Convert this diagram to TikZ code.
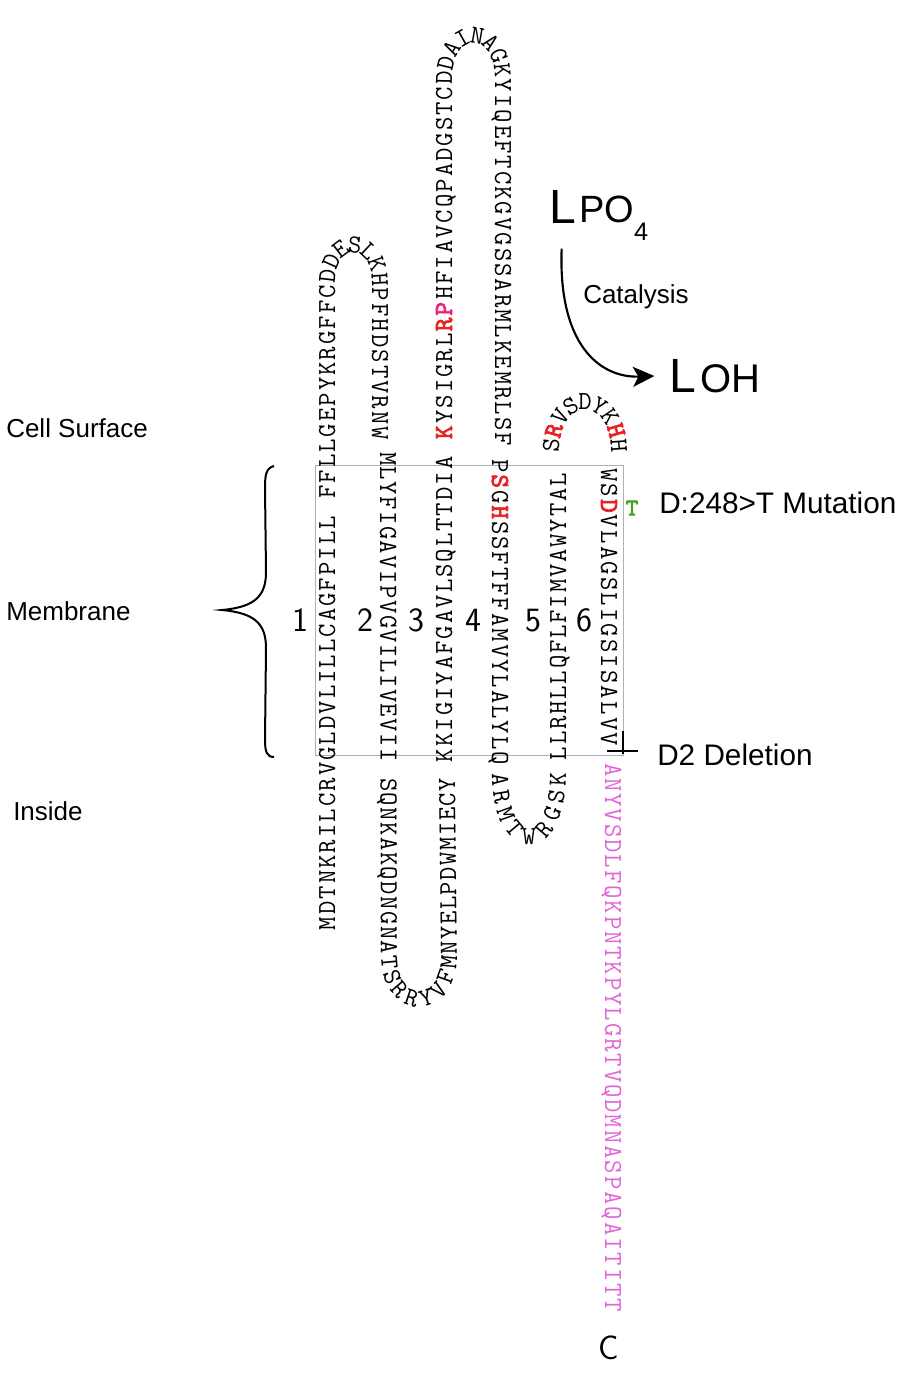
\documentclass[tikz,border=0pt]{standalone}
\usepackage{fontspec}
\usepackage{tikz}
\usetikzlibrary{decorations.text,arrows.meta}
\newfontfamily\labelfont{Liberation Sans}
\newfontfamily\aminobf[FakeBold=3]{lmmono10-regular.otf}
\newcommand{\aminofont}{\ttfamily\fontsize{19.5}{19.5}\selectfont}
\newcommand{\aminoblk}{\aminofont\mdseries\color{black}}
\newcommand{\aminored}{\aminobf\fontsize{19.5}{19.5}\selectfont\color[RGB]{232,34,36}}
\newcommand{\aminopink}{\aminobf\fontsize{19.5}{19.5}\selectfont\color[RGB]{236,30,120}}
\newcommand{\aminotail}{\aminofont\mdseries\color[RGB]{226,100,214}}
\tikzset{
  seq/.style={decorate, decoration={text along path, text align={fit to path}, raise=-6pt, text={#1}}},
  lbl/.style={anchor=base west, inner sep=0pt, font=\labelfont\fontsize{19.5}{20}\selectfont},
  num/.style={anchor=base, inner sep=0pt, font=\sffamily\fontsize{25.5}{26}\selectfont},
}

\begin{document}
\begin{tikzpicture}[x=0.75pt,y=0.75pt,yscale=-1,xscale=1]
\useasboundingbox (0,0) rectangle (900,1386);
%Shape: Rectangle [id:membrane]
\draw [color={rgb, 255:red, 168; green, 178; blue, 188 }  ,draw opacity=1 ][line width=0.75]  (315,465) rectangle (623,755) ;
%Curve Lines [id:brace]
\draw [line width=1.5]  (274,466) .. controls (266,468) and (265,475) .. (265,488) -- (266,572) .. controls (266,596) and (255,607) .. (222,610) .. controls (255,613) and (266,624) .. (266,648) -- (265,740) .. controls (265,752) and (267,757) .. (274,757) ;

%Sequence [id:tm1-loop1]
\path [seq={|\aminoblk|MDTNKRILCRVGLDVLILLCAGFPILL FFLLGEPYKRGFFCDDESLKHPFHDSTVRNW}]  (327,930) -- (327,284) .. controls (327,232) and (380,232) .. (380,284) -- (380,440) ;
%Sequence [id:tm2-loop2]
\path [seq={|\aminoblk|MLYFIGAVIPVGVILIVEVII SQNKAKQDNGNATSRRYVFMNYELPDWMIECY}]  (388,452) -- (389,955) .. controls (389,1014) and (449,1014) .. (449,955) -- (447,778) ;
%Sequence [id:tm3-loop3]
\path [seq={|\aminoblk|KKIGIYAFGAVLSQLTTDIA |\aminored|K|\aminoblk|YSIGRL|\aminored|R|\aminopink|P|\aminoblk|HFIAVCQPADGSTCDDAINAGKYIQEFTCKGVGSSARMLKEMRLSF}]  (444,762) -- (444,80) .. controls (444,20) and (503,20) .. (503,80) -- (503,446) ;
%Sequence [id:tm4]
\path [seq={|\aminoblk|P|\aminored|S|\aminoblk|G|\aminored|H|\aminoblk|SSFTFFAMVYLALYLQ}]  (500,459) -- (500,765) ;
%Sequence [id:loop4]
\path [seq={|\aminoblk|ARMTWRGSK}]  (500,773) .. controls (500,858) and (558,858) .. (558,773) ;
%Sequence [id:tm5]
\path [seq={|\aminoblk|LLRHLLQFLFIMVAWYTAL}]  (558,760) -- (558,473) ;
%Sequence [id:loop5]
\path [seq={|\aminoblk|S|\aminored|R|\aminoblk|VSDYK|\aminored|H|\aminoblk|H}]  (551,452) .. controls (551,385) and (619,385) .. (619,452) ;
%Sequence [id:tm6]
\path [seq={|\aminoblk|WS|\aminored|D|\aminoblk|VLAGSLIGSISALVV}]  (609,468) -- (609,746) ;
%Sequence [id:ctail]
\path [seq={|\aminotail|ANYVSDLFQKPNTKPYLGRTVQDMNASPAQAITITT}]  (613,763) -- (613,1312) ;

%Straight Lines [id:deletion]
\draw [line width=1.5]    (607,751) -- (638,751) ;
\draw [line width=1.5]    (623,731) -- (623,754) ;

% helix numbers
\node [num] (h1) at (300,631) {1};
\node [num] (h2) at (365,631) {2};
\node [num] (h3) at (416,631) {3};
\node [num] (h4) at (473,631) {4};
\node [num] (h5) at (533,631) {5};
\node [num] (h6) at (584,631) {6};
\node [num] (cterm) at (609,1359) {C};

% side labels
\node [lbl] (surface) at (6,437) {Cell Surface};
\node [lbl] (membr) at (6,620) {Membrane};
\node [lbl] (inside) at (13,820) {Inside};
\node [lbl, font=\labelfont\fontsize{22.3}{23}\selectfont] (mutation) at (659,513) {D:248>T Mutation};
\node [lbl, font=\labelfont\fontsize{22.3}{23}\selectfont] (deletion) at (657,765) {D2 Deletion};
\node [inner sep=0pt, font=\aminobf\fontsize{18}{18}\selectfont, text={rgb, 255:red, 72; green, 160; blue, 40 }] (mutT) at (632,508) {T};

% catalysis
\node [lbl, font=\labelfont\fontsize{36}{38}\selectfont] (lpoL) at (549,223) {L};
\node [lbl, font=\labelfont\fontsize{28.5}{30}\selectfont] (lpoPO) at (579,222) {PO\raisebox{-14pt}{\fontsize{19}{19}\selectfont 4}};
\node [lbl] (catal) at (583,303) {Catalysis};
\node [lbl, font=\labelfont\fontsize{36}{38}\selectfont] (lohL) at (669,392) {L};
\node [lbl, font=\labelfont\fontsize{30}{32}\selectfont] (lohOH) at (700,392) {OH};
%Curve Lines [id:catalysis-arrow]
\draw [line width=1.6, -{Stealth[length=16pt,width=15pt,inset=4pt]}, shorten <=19pt, shorten >=11pt]    (lpoL.south) .. controls (558,345) and (600,378) .. (lohL.west) ;
\end{tikzpicture}
\end{document}
